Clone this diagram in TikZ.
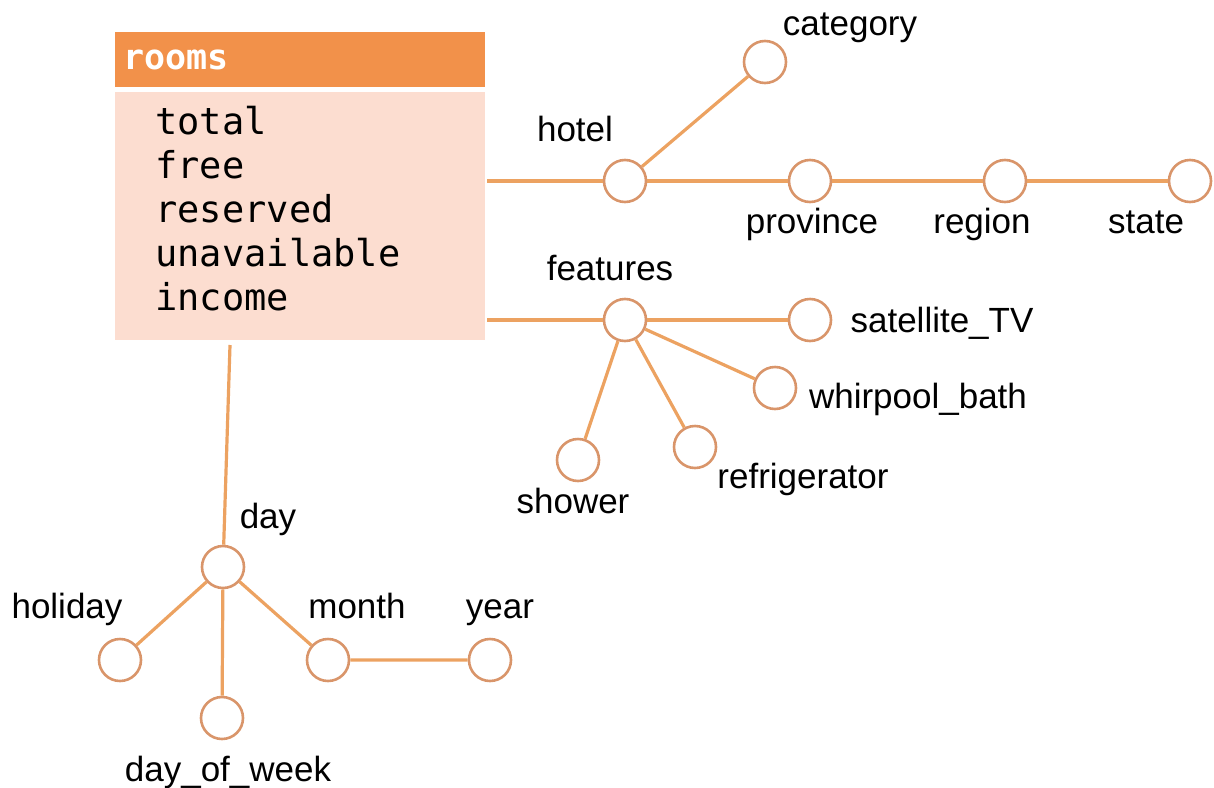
\documentclass[tikz,border=0pt]{standalone}
\usepackage{fontspec}
\setmainfont{Liberation Sans}
\setmonofont{DejaVu Sans Mono}
\usepackage{tikz}

\definecolor{hdrorange}{HTML}{F2914A}
\definecolor{bodypeach}{HTML}{FCDDD0}
\definecolor{linkorange}{HTML}{ECA261}
\definecolor{ringorange}{HTML}{D9956A}

\begin{document}
\begin{tikzpicture}[x=0.5pt, y=-0.5pt,
	attr/.style={circle, draw=ringorange, fill=white, line width=1.3pt, minimum size=21pt, inner sep=0pt},
	lbl/.style={anchor=base, inner sep=0pt, font=\fontsize{17.5}{21}\selectfont},
	link/.style={linkorange, line width=1.6pt}]
	\useasboundingbox (0,0) rectangle (1214,787);

	% fact table
	\node[anchor=north west, fill=hdrorange, minimum height=27.5pt, text width=177pt, inner xsep=4pt, align=left,
		text=white, font=\fontsize{17.5}{21}\selectfont\ttfamily\bfseries] (rooms) at (115,32) {rooms};
	\node[anchor=north west, fill=bodypeach, minimum width=185pt, minimum height=124pt] (measures) at (115,92) {};
	\node[anchor=north west, inner sep=0pt, align=left, font=\fontsize{18.5}{22}\selectfont\ttfamily]
		(measurelist) at (155,106) {total\\free\\reserved\\unavailable\\income};

	\coordinate (hotelport) at (487,181);
	\coordinate (featport) at (487,320);
	\coordinate (dayport) at (230,345);

	% attributes
	\node[attr] (hotel) at (625,181) {};
	\node[attr] (category) at (765,62) {};
	\node[attr] (province) at (810,181) {};
	\node[attr] (region) at (1005,181) {};
	\node[attr] (state) at (1190,181) {};
	\node[attr] (features) at (625,320) {};
	\node[attr] (satellite) at (810,320) {};
	\node[attr] (whirpool) at (775,388) {};
	\node[attr] (fridge) at (695,447) {};
	\node[attr] (shower) at (578,460) {};
	\node[attr] (day) at (223,567) {};
	\node[attr] (holiday) at (120,660) {};
	\node[attr] (dow) at (222,718) {};
	\node[attr] (month) at (328,660) {};
	\node[attr] (year) at (490,660) {};

	% labels
	\node[lbl] (categorylbl) at (850,35) {category};
	\node[lbl] (hotellbl) at (575,141) {hotel};
	\node[lbl] (provincelbl) at (812,233) {province};
	\node[lbl] (regionlbl) at (982,233) {region};
	\node[lbl] (statelbl) at (1146,233) {state};
	\node[lbl] (featureslbl) at (610,280) {features};
	\node[lbl] (satellitelbl) at (942,332) {satellite\_TV};
	\node[lbl] (whirpoollbl) at (918,408) {whirpool\_bath};
	\node[lbl] (fridgelbl) at (803,488) {refrigerator};
	\node[lbl] (showerlbl) at (573,513) {shower};
	\node[lbl] (daylbl) at (268,528) {day};
	\node[lbl] (holidaylbl) at (67,618) {holiday};
	\node[lbl] (monthlbl) at (357,618) {month};
	\node[lbl] (yearlbl) at (500,618) {year};
	\node[lbl] (dowlbl) at (228,781) {day\_of\_week};

	% edges
	\draw[link] (hotelport) -- (hotel);
	\draw[link] (hotel) -- (category);
	\draw[link] (hotel) -- (province) -- (region) -- (state);
	\draw[link] (featport) -- (features);
	\draw[link] (features) -- (satellite);
	\draw[link] (features) -- (whirpool);
	\draw[link] (features) -- (fridge);
	\draw[link] (features) -- (shower);
	\draw[link] (dayport) -- (day);
	\draw[link] (day) -- (holiday);
	\draw[link] (day) -- (dow);
	\draw[link] (day) -- (month) -- (year);
\end{tikzpicture}
\end{document}
